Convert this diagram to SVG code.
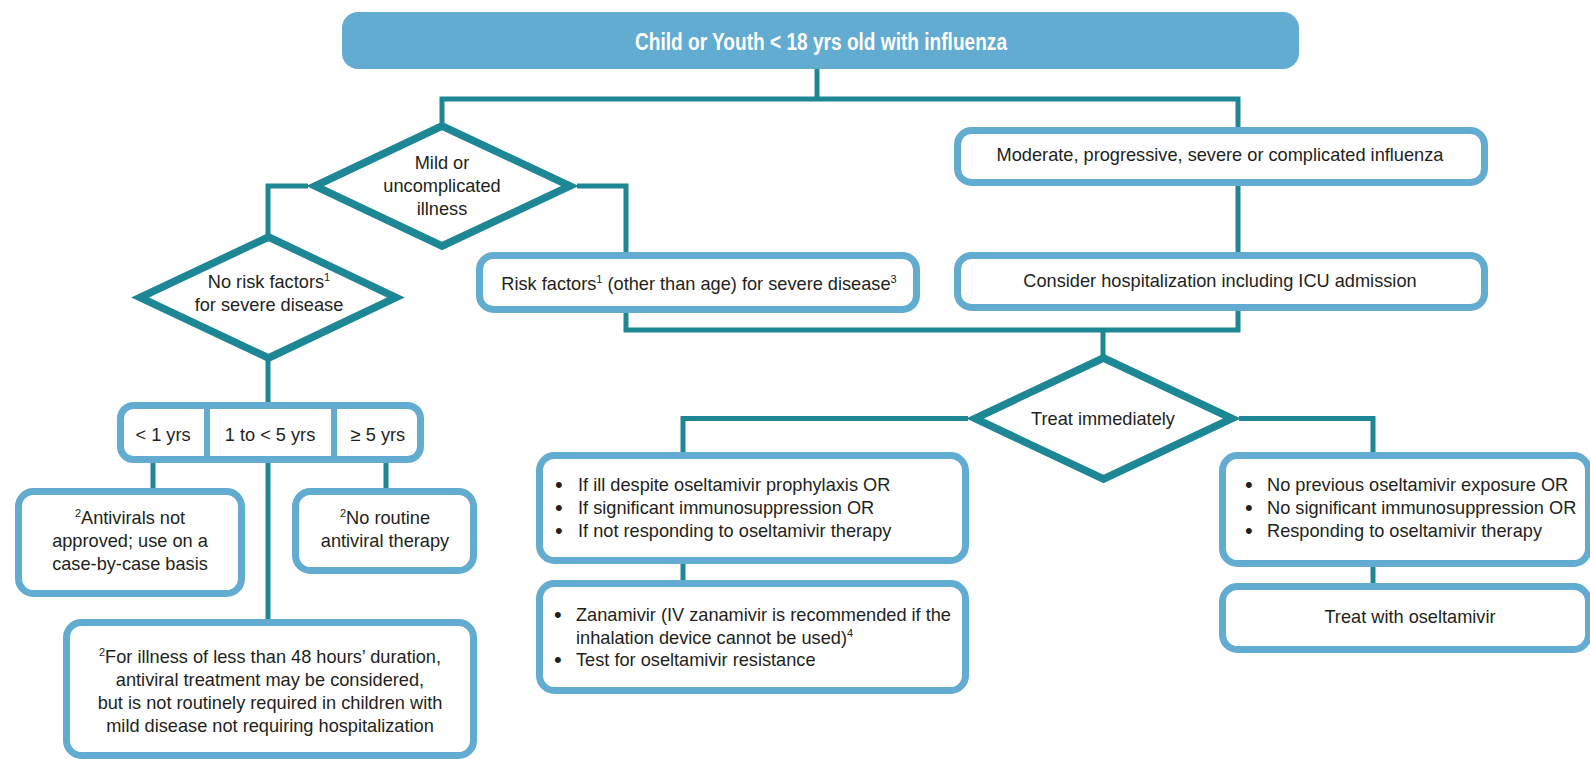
<svg xmlns="http://www.w3.org/2000/svg" width="1590" height="759" viewBox="0 0 1590 759">
<style>
.c{fill:none;stroke:#1e8795;stroke-width:5;stroke-linejoin:miter}
.d{fill:#fff;stroke:#1e8795;stroke-width:7.5;stroke-linejoin:miter}
.b{fill:#fff;stroke:#62abd1;stroke-width:7}
.t{font-family:"Liberation Sans",Arial,sans-serif;font-size:18.2px;fill:#231f20}
.m{text-anchor:middle}
.s{font-size:11px}
.u{font-size:22px}
</style>
<rect width="1590" height="759" fill="#fff"/>
<g id="connectors">
<path class="c" d="M817,68V99"/>
<path class="c" d="M442,124V99H1238V129"/>
<path class="c" d="M308,186H268V236"/>
<path class="c" d="M577,186H626V254"/>
<path class="c" d="M1238,184V254"/>
<path class="c" d="M626,310V330H1238V309"/>
<path class="c" d="M1103,330V356"/>
<path class="c" d="M268,360V405"/>
<path class="c" d="M153,461V490"/>
<path class="c" d="M268,461V621"/>
<path class="c" d="M386,461V490"/>
<path class="c" d="M968,418.5H683V454"/>
<path class="c" d="M1239,418.5H1373V454"/>
<path class="c" d="M683,562V582"/>
<path class="c" d="M1373,565V585"/>
</g>
<g id="title">
<rect x="342" y="12" width="957" height="57" rx="16" fill="#62abd1"/>
<text x="821" y="49.5" font-family="'Liberation Sans Narrow','Liberation Sans',Arial,sans-serif" font-weight="bold" font-size="23" fill="#fff" text-anchor="middle" textLength="372" lengthAdjust="spacingAndGlyphs">Child or Youth &lt; 18 yrs old with influenza</text>
</g>
<g id="mild">
<path class="d" d="M442,126L570,186L442,246L315,186Z"/>
<text class="t m" x="442" y="169">Mild or</text>
<text class="t m" x="442" y="192">uncomplicated</text>
<text class="t m" x="442" y="215">illness</text>
</g>
<g id="moderate">
<rect class="b" x="957.5" y="130.5" width="527" height="52" rx="14"/>
<text class="t m" x="1220" y="161">Moderate, progressive, severe or complicated influenza</text>
</g>
<g id="consider">
<rect class="b" x="957.5" y="255.5" width="527" height="52" rx="14"/>
<text class="t m" x="1220" y="287">Consider hospitalization including ICU admission</text>
</g>
<g id="risk">
<rect class="b" x="479.5" y="255.5" width="437" height="54" rx="14"/>
<text class="t m" x="699" y="290">Risk factors<tspan class="s" dy="-7">1</tspan><tspan dy="7"> (other than age) for severe disease</tspan><tspan class="s" dy="-7">3</tspan></text>
</g>
<g id="norisk">
<path class="d" d="M268.5,237L396,297.5L268.5,358L140,297.5Z"/>
<text class="t m" x="269" y="288">No risk factors<tspan class="s" dy="-7">1</tspan></text>
<text class="t m" x="269" y="311">for severe disease</text>
</g>
<g id="ages">
<rect class="b" x="120.5" y="405.5" width="300" height="54" rx="13"/>
<path d="M207,405V460M334,405V460" stroke="#62abd1" stroke-width="6"/>
<text class="t m" x="163" y="441">&lt; 1 yrs</text>
<text class="t m" x="270" y="441">1 to &lt; 5 yrs</text>
<text class="t m" x="378" y="441">≥ 5 yrs</text>
</g>
<g id="under1">
<rect class="b" x="18.5" y="491.5" width="223" height="102" rx="15"/>
<text class="t m" x="130" y="524"><tspan class="s" dy="-7">2</tspan><tspan dy="7">Antivirals not</tspan></text>
<text class="t m" x="130" y="547">approved; use on a</text>
<text class="t m" x="130" y="570">case-by-case basis</text>
</g>
<g id="over5">
<rect class="b" x="295.5" y="491.5" width="178" height="79" rx="15"/>
<text class="t m" x="385" y="524"><tspan class="s" dy="-7">2</tspan><tspan dy="7">No routine</tspan></text>
<text class="t m" x="385" y="547">antiviral therapy</text>
</g>
<g id="oneto5">
<rect class="b" x="66.5" y="622.5" width="407" height="133" rx="15"/>
<text class="t m" x="270" y="663"><tspan class="s" dy="-7">2</tspan><tspan dy="7">For illness of less than 48 hours’ duration,</tspan></text>
<text class="t m" x="270" y="686">antiviral treatment may be considered,</text>
<text class="t m" x="270" y="709">but is not routinely required in children with</text>
<text class="t m" x="270" y="732">mild disease not requiring hospitalization</text>
</g>
<g id="treat">
<path class="d" d="M1103.5,358L1232,418.5L1103.5,479L975,418.5Z"/>
<text class="t m" x="1103" y="425">Treat immediately</text>
</g>
<g id="ifill">
<rect class="b" x="539.5" y="455.5" width="426" height="105" rx="15"/>
<text class="t u" x="555" y="492">•</text>
<text class="t" x="578" y="491">If ill despite oseltamivir prophylaxis OR</text>
<text class="t u" x="555" y="515">•</text>
<text class="t" x="578" y="514">If significant immunosuppression OR</text>
<text class="t u" x="555" y="538">•</text>
<text class="t" x="578" y="537">If not responding to oseltamivir therapy</text>
</g>
<g id="zanamivir">
<rect class="b" x="539.5" y="583.5" width="426" height="107" rx="15"/>
<text class="t u" x="554" y="622">•</text>
<text class="t" x="576" y="621">Zanamivir (IV zanamivir is recommended if the</text>
<text class="t" x="576" y="644">inhalation device cannot be used)<tspan class="s" dy="-7">4</tspan></text>
<text class="t u" x="554" y="667">•</text>
<text class="t" x="576" y="666">Test for oseltamivir resistance</text>
</g>
<g id="noprev">
<rect class="b" x="1222.5" y="455.5" width="366" height="108" rx="15"/>
<text class="t u" x="1245" y="492">•</text>
<text class="t" x="1267" y="491">No previous oseltamivir exposure OR</text>
<text class="t u" x="1245" y="515">•</text>
<text class="t" x="1267" y="514">No significant immunosuppression OR</text>
<text class="t u" x="1245" y="538">•</text>
<text class="t" x="1267" y="537">Responding to oseltamivir therapy</text>
</g>
<g id="oseltamivir">
<rect class="b" x="1222.5" y="586.5" width="366" height="63" rx="15"/>
<text class="t m" x="1410" y="623">Treat with oseltamivir</text>
</g>
</svg>
